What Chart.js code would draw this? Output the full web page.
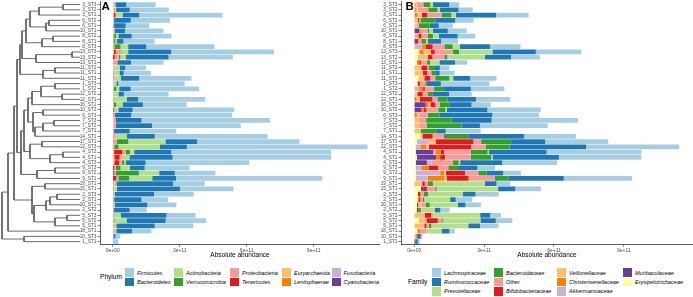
<!DOCTYPE html>
<html><head><meta charset="utf-8">
<script src="https://cdn.jsdelivr.net/npm/chart.js@4.4.0/dist/chart.umd.min.js"></script>
<style>
html,body{margin:0;padding:0;background:#fff;}
#wrap{position:relative;width:693px;height:297px;overflow:hidden;font-family:"Liberation Sans",Arial,sans-serif;}
canvas{position:absolute;top:0;}
.lbl{position:absolute;white-space:nowrap;}
</style></head>
<body><div id="wrap">
<canvas id="dend" width="80" height="262" style="left:0px"></canvas>
<canvas id="pa" width="300" height="262" style="left:80px"></canvas>
<canvas id="pb" width="313" height="262" style="left:380px"></canvas>
</div>
<script>
// ---------------- data ----------------
const samples = ["3_ST3","3_ST2","3_ST1","6_ST2","6_ST1","10_ST1","8_ST2","8_ST1","8_ST3","13_ST3","13_ST2","13_ST1","11_ST2","11_ST1","11_ST3","1_ST3","1_ST2","12_ST2","12_ST1","16_ST1","10_ST2","6_ST3","7_ST3","7_ST2","7_ST1","14_ST1","17_ST1","12_ST3","4_ST2","4_ST1","4_ST3","9_ST3","9_ST2","9_ST1","19_ST1","15_ST1","2_ST3","2_ST1","20_ST1","2_ST2","5_ST3","5_ST2","5_ST1","18_ST1","10_ST3","1_ST1"];
const UNIT = 1e11; // values below are in units of 1e11
const xTicks = [0, 3, 6, 9];

// Phylum (panel A)
const Firmicutes = [1.31,1.75,3.73,1.75,1.06,1.72,1.78,1.39,3.06,4.6,2.88,1.46,0.93,1.22,2.34,2.97,3.07,2.0,3.0,1.96,4.55,4.52,5.75,3.97,2.09,5.06,4.58,8.09,7.16,7.1,4.64,2.01,1.82,6.54,1.42,2.4,1.78,1.19,1.3,0.76,1.3,1.82,1.73,0.87,0.22,0.24];
const Bacteroidetes = [0.49,0.61,0.75,0.75,0.52,0.45,0.6,0.3,0.81,1.93,1.91,0.61,0.25,0.19,0.82,0.09,0.51,0.25,0.51,0.91,0.64,0.73,1.16,1.61,0.7,1.25,1.42,1.21,1.66,1.93,0.88,0.66,0.7,1.07,2.54,2.82,1.76,1.19,1.45,0.7,2.04,1.75,1.72,0.7,0.09,0.01];
const Actinobacteria = [0.03,0.04,0.28,0.03,0,0,0.1,0.06,0.34,0.28,0.25,0,0.27,0.21,0.28,0.12,0.13,0.21,0.57,0.28,0.15,0,0,0,0,0.51,1.66,1.85,0.19,0.34,0.07,0.42,0.91,1.03,0.1,0.12,0.03,0,0.04,0,0.31,0.54,0.09,0.06,0,0];
const Verrucomicrobia = [0,0,0,0,0,0,0.09,0.06,0.28,0,0.07,0,0,0,0,0,0.12,0,0,0.12,0,0,0,0,0,0,0.52,0.19,0.18,0,0.1,0.21,1.03,0.49,0,0,0,0.04,0,0,0,0.04,0,0,0,0];
const Proteobacteria = [0.05,0.06,0.03,0.03,0.06,0.06,0.06,0.06,0.07,0.27,0.18,0.21,0.04,0.09,0.09,0.04,0,0.04,0.06,0,0.06,0.1,0.09,0.11,0.06,0.12,0.18,0.06,0.16,0.1,0.13,0.07,0.06,0.09,0.06,0.07,0.06,0.06,0.06,0.06,0.06,0.04,0.07,0.04,0.03,0];
const Tenericutes = [0,0,0.09,0,0,0,0,0,0,0.09,0.09,0,0,0,0,0,0,0,0,0,0.04,0,0,0,0,0,0,0,0.37,0.24,0.22,0.07,0.06,0.16,0,0,0,0,0,0,0,0,0,0,0,0];
const Euryarchaeota = [0.04,0.05,0.03,0,0,0.04,0,0,0,0.03,0,0,0,0,0,0,0.04,0,0,0.04,0,0,0.04,0.04,0,0,0,0,0.04,0.07,0.07,0,0,0,0,0,0,0,0,0,0,0,0,0.06,0,0];
const Lentisphaerae = [0,0,0.01,0,0,0,0,0,0,0,0,0,0,0,0,0,0,0,0,0,0,0,0,0,0,0,0,0,0,0,0,0,0.02,0,0,0,0,0,0,0,0,0,0,0,0,0];
const Fusobacteria = [0,0,0,0,0,0,0,0,0,0.02,0,0,0,0,0,0,0,0,0,0,0,0,0,0,0,0,0,0,0.02,0,0,0,0,0,0,0,0,0,0,0,0,0,0,0,0,0];
const Cyanobacteria = [0,0,0,0,0,0,0,0,0,0,0,0,0,0,0,0,0,0,0,0,0,0,0,0,0,0,0,0.01,0,0,0,0,0,0,0,0,0,0,0,0,0,0,0,0,0,0];

// Family (panel B)
const Lachnospiraceae = [0.43,0.61,1.39,0.79,0.6,0.81,0.76,0.73,1.31,1.96,1.23,0.53,0.4,0.64,1.13,2.09,1.44,0.97,1.47,0.83,2.29,2.0,3.71,2.91,1.5,2.23,2.71,4.0,4.07,3.54,2.36,0.76,0.76,2.93,0.59,1.1,1.0,0.7,0.66,0.4,0.46,0.71,0.79,0.23,0.07,0.09];
const Ruminococcaceae = [0.7,0.81,1.74,0.86,0.4,0.64,0.8,0.56,1.3,1.86,1.13,0.67,0.21,0.19,0.73,0.6,1.19,0.73,1.23,0.93,1.74,2.27,1.71,0.79,0.41,2.39,1.46,3.29,2.47,2.83,1.8,0.79,0.71,2.36,0.5,0.74,0.54,0.24,0.33,0.23,0.43,0.66,0.51,0.34,0.13,0.11];
const Prevotellaceae = [0.11,0.09,0.19,0,0,0.16,0.26,0.09,0.3,1.44,1.61,0.4,0,0,0.16,0,0,0,0,0,0.07,0,0,0,0,0,0,0,0.06,0.07,0.06,0,0,0,2.23,2.64,1.5,1.11,1.21,0.61,2.01,1.6,1.59,0.67,0,0];
const Bacteroidaceae = [0.3,0.4,0.4,0.64,0.46,0.07,0.21,0.2,0.36,0.27,0.13,0.14,0.26,0.17,0.61,0.07,0.39,0.2,0.43,0.43,0.3,0.51,1.1,1.5,0.67,1.06,1.29,1.01,0.73,0.89,0.26,0.46,0.36,0.6,0.21,0.06,0.19,0.07,0.16,0.11,0,0.04,0.1,0,0,0];
const Other = [0.29,0.46,0.63,0.06,0.09,0.29,0.3,0.13,0.5,0.77,0.51,0.26,0.07,0.17,0.21,0.23,0.4,0.21,0.21,0.2,0.51,0.33,0.3,0.29,0,0.47,0.33,0.63,1.14,1.1,0.9,0.43,0.57,1.13,0.14,0.36,0.14,0.1,0.2,0,0.09,0.19,0.11,0.24,0,0];
const Bifidobacteriaceae = [0,0,0.23,0.06,0,0,0.09,0.17,0.29,0.17,0.2,0.07,0.26,0.19,0.26,0.1,0.07,0.23,0.54,0.21,0.1,0,0,0,0,0.44,1.63,1.83,0.14,0.21,0,0.4,0.83,0.94,0.11,0.16,0.1,0.09,0,0.06,0.29,0.49,0.09,0,0.04,0];
const Veillonellaceae = [0.05,0.07,0.2,0.14,0.1,0,0,0,0,0.31,0.37,0,0.3,0.37,0.24,0,0,0.13,0.14,0.1,0,0.13,0.21,0.24,0.27,0.09,0.29,0.1,0,0,0,0,0.07,0.11,0.34,0,0,0,0.13,0,0.44,0.33,0.43,0,0,0];
const Christensenellaceae = [0.05,0.07,0.13,0,0,0.07,0.07,0,0.16,0.19,0,0.1,0,0,0,0,0.17,0,0.1,0.1,0.11,0.11,0,0,0,0,0,0.26,0.24,0.17,0,0.33,0.17,0.71,0,0,0,0,0,0,0,0,0,0.13,0.04,0];
const Akkermansiaceae = [0,0,0,0,0,0,0.13,0,0.34,0,0.07,0,0,0,0,0,0.21,0,0,0,0,0,0,0,0,0,0.51,0.19,0.09,0,0.21,0.23,1.04,0.5,0,0,0,0,0,0,0,0,0,0,0.07,0];
const Muribaculaceae = [0,0,0,0,0,0.21,0,0,0,0,0,0,0,0,0,0,0,0,0,0.49,0.31,0,0,0,0,0,0,0,0.74,0.83,0.47,0,0,0,0,0.09,0,0,0.06,0,0,0,0,0,0,0.04];
const Erysipelotrichaceae = [0,0,0,0,0,0,0,0,0,0.21,0.14,0.11,0,0,0.19,0.14,0,0,0,0,0,0,0,0,0,0.26,0.11,0.07,0.07,0.11,0.07,0.07,0.07,0.07,0,0.29,0.16,0.17,0.11,0.11,0,0.19,0,0.13,0,0];

// Dendrogram (hclust-style merge table: negative = leaf row, positive = earlier merge)
const mergeTable = [[-1,-2],[1,-3],[-4,-5],[3,-6],[2,4],[-7,-8],[6,-9],[5,7],[-10,-11],[9,-12],[8,10],[-13,-14],[12,-15],[11,13],[-16,-17],[-18,-19],[15,16],[17,-20],[-21,-22],[-23,-24],[20,-25],[21,-26],[19,22],[18,23],[-27,-28],[-29,-30],[26,-31],[25,27],[24,28],[-32,-33],[30,-34],[29,31],[14,32],[-35,-36],[-37,-38],[35,-39],[36,-40],[-41,-42],[38,-43],[37,39],[34,40],[33,41],[42,-44],[-45,-46],[43,44]];
const mergeHeight = [17,41,31,34,50,27,38,54,8,44,58,25,37,60,25,18,39,48,37,26,37,45,47,52,38,17,30,50,56,25,43,59,63,35,23,30,34,13,25,46,48,66,72,56,78];

const phylumNames = ["Firmicutes","Bacteroidetes","Actinobacteria","Verrucomicrobia","Proteobacteria","Tenericutes","Euryarchaeota","Lentisphaerae","Fusobacteria","Cyanobacteria"];
const phylumValues = [Firmicutes,Bacteroidetes,Actinobacteria,Verrucomicrobia,Proteobacteria,Tenericutes,Euryarchaeota,Lentisphaerae,Fusobacteria,Cyanobacteria];
const familyNames = ["Lachnospiraceae","Ruminococcaceae","Prevotellaceae","Bacteroidaceae","Other","Bifidobacteriaceae","Veillonellaceae","Christensenellaceae","Akkermansiaceae","Muribaculaceae","Erysipelotrichaceae"];
const familyValues = [Lachnospiraceae,Ruminococcaceae,Prevotellaceae,Bacteroidaceae,Other,Bifidobacteriaceae,Veillonellaceae,Christensenellaceae,Akkermansiaceae,Muribaculaceae,Erysipelotrichaceae];

// ---------------- styles ----------------
const paired = ["#A6CEE3","#1F78B4","#B2DF8A","#33A02C","#FB9A99","#E31A1C","#FDBF6F","#FF7F00","#CAB2D6","#6A3D9A","#FFFF99"];
const FONT = '"Liberation Sans", Arial, sans-serif';
Chart.defaults.font.family = FONT;
const TOP = 1.9, XH = 17.7;
const XMIN = -0.57, XMAX = 11.97;

function fmtSci(v){
  const [m,e] = Number(v).toExponential(0).split('e');
  const n = parseInt(e,10);
  return m + 'e' + (n<0?'-':'+') + String(Math.abs(n)).padStart(2,'0');
}

function panel(id, names, values, yWidth){
  const ds = names.map((n,i)=>({label:n, data: values[i].map(v=>v*UNIT), backgroundColor: paired[i], borderWidth:0, barPercentage:0.9, categoryPercentage:1})).reverse();
  const axisCol = '#333';
  return new Chart(document.getElementById(id), {
    type:'bar',
    data:{labels:samples, datasets:ds},
    options:{
      indexAxis:'y', responsive:false, animation:false, devicePixelRatio:1,
      layout:{padding:{top:TOP,left:0,right:0,bottom:0}},
      plugins:{legend:{display:false}, tooltip:{enabled:false}},
      scales:{
        x:{type:'linear', stacked:true, min:XMIN*UNIT, max:XMAX*UNIT,
          afterBuildTicks:s=>{ s.ticks = xTicks.map(v=>({value:v*UNIT})); },
          afterFit:s=>{ s.height = XH; s.paddingLeft = 0; s.paddingRight = 0; },
          ticks:{callback:v=>fmtSci(v), font:{size:5}, color:'#4d4d4d', padding:1, maxRotation:0, autoSkip:false},
          grid:{display:true, drawOnChartArea:false, drawTicks:true, tickLength:2.5, color:axisCol, lineWidth:0.6},
          border:{display:true, color:axisCol, width:0.8},
          title:{display:true, text:'Absolute abundance', font:{size:6.5}, color:'#000', padding:{top:0,bottom:2.4}}
        },
        y:{type:'category', stacked:true, offset:true,
          afterFit:s=>{ s.width = yWidth; s.paddingTop = 0; s.paddingBottom = 0; },
          ticks:{font:{size:4.8}, color:'#4d4d4d', padding:1, autoSkip:false},
          grid:{display:true, offset:false, drawOnChartArea:false, drawTicks:true, tickLength:2.5, color:axisCol, lineWidth:0.6},
          border:{display:true, color:axisCol, width:0.8}
        }
      }
    }
  });
}
panel('pa', phylumNames, phylumValues, 20);
panel('pb', familyNames, familyValues, 21);

// dendrogram
(function(){
  const nodeY = [];
  const segs = [];
  const pos = r => r<0 ? {x:0, y:-r-1} : {x:mergeHeight[r-1], y:nodeY[r-1]};
  mergeTable.forEach(([a,b],i)=>{
    const pa = pos(a), pb = pos(b), h = mergeHeight[i];
    nodeY[i] = (pa.y+pb.y)/2;
    segs.push([{x:pa.x,y:pa.y},{x:h,y:pa.y},{x:h,y:pb.y},{x:pb.x,y:pb.y}]);
  });
  new Chart(document.getElementById('dend'), {
    type:'scatter',
    data:{datasets: segs.map(s=>({data:s, showLine:true, pointRadius:0, borderColor:'#5a5a5a', borderWidth:0.9, clip:false, tension:0}))},
    options:{responsive:false, animation:false, devicePixelRatio:1,
      layout:{padding:{top:TOP,bottom:XH,left:0,right:0}},
      plugins:{legend:{display:false}, tooltip:{enabled:false}},
      scales:{
        x:{type:'linear', min:0, max:80, reverse:true, display:false},
        y:{type:'linear', min:-0.5, max:samples.length-0.5, reverse:true, display:false}
      }
    }
  });
})();

// panel tags and legends (HTML text)
const wrap = document.getElementById('wrap');
function addText(txt, x, y, css){
  const d = document.createElement('div'); d.className='lbl'; d.textContent = txt;
  d.style.left = x+'px'; d.style.top = y+'px'; Object.assign(d.style, css||{});
  wrap.appendChild(d); return d;
}
addText('A', 101.5, 1, {fontSize:'11.5px', fontWeight:'bold', lineHeight:'11.5px'});
addText('B', 405.5, 1, {fontSize:'11.5px', fontWeight:'bold', lineHeight:'11.5px'});

function legend(title, titleX, titleCY, names, colX, rowY){
  addText(title, titleX, titleCY-4, {fontSize:'6.6px', lineHeight:'8px'});
  const nRows = rowY.length;
  names.forEach((n,i)=>{
    const c = Math.floor(i/nRows), r = i % nRows;
    const k = document.createElement('div');
    Object.assign(k.style,{position:'absolute', left:colX[c]+'px', top:rowY[r]+'px', width:'9px', height:'8.6px', background:paired[i]});
    wrap.appendChild(k);
    addText(n, colX[c]+12, rowY[r]+0.3, {fontSize:'5.5px', fontStyle:'italic', lineHeight:'8px'});
  });
}
legend('Phylum', 100, 277.3, phylumNames, [125,174,230,282,331.5], [268.3,277.7]);
legend('Family', 408, 282, familyNames, [432,494,557,623], [268.3,277.7,287.0]);
</script>
</body></html>
